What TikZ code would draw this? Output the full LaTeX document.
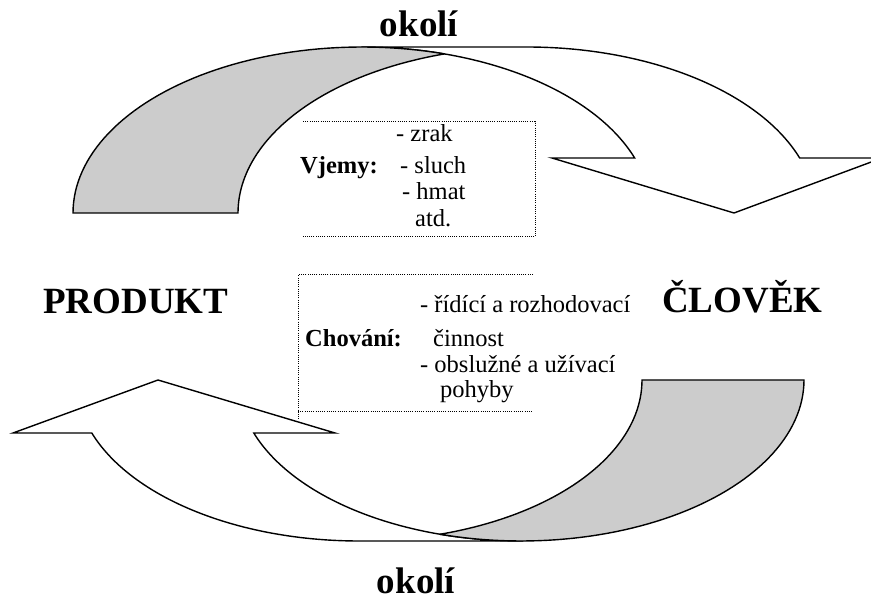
\documentclass[tikz,border=0pt]{standalone}
\usepackage{fontspec}
\setmainfont{Liberation Serif}
\begin{document}
\begin{tikzpicture}[x=1pt,y=-1pt,
  band/.style={draw=black,line width=1.4pt,line join=miter},
  dotbox/.style={draw=black,line width=1pt,dash pattern=on 1pt off 1.2pt},
  big/.style={inner sep=0pt,font=\fontsize{37}{40}\selectfont\bfseries},
  small/.style={inner sep=0pt,anchor=base west,font=\fontsize{24.5}{27}\selectfont},
  smallb/.style={small,font=\fontsize{24.5}{27}\selectfont\bfseries}]
\definecolor{shade}{RGB}{204,204,204}
\useasboundingbox (0,0) rectangle (871,601);

% top curved arrow (front band)
\draw[band,fill=white] (362,47) -- (527,47)
  -- plot[domain=90:19.35,samples=60,variable=\t] ({527+289*cos(\t)},{213-166*sin(\t)})
  -- (882,158) -- (734,213) -- (552,158)
  -- plot[domain=19.35:90,samples=60,variable=\t] ({362+289*cos(\t)},{213-166*sin(\t)}) -- cycle;
% top back band (shaded)
\draw[band,fill=shade]
  plot[domain=180:73.41,samples=60,variable=\t] ({362+289*cos(\t)},{213-166*sin(\t)})
  -- plot[domain=106.59:180,samples=60,variable=\t] ({527+289*cos(\t)},{213-166*sin(\t)}) -- cycle;

% bottom curved arrow (front band)
\draw[band,fill=white] (521,541) -- (359,541)
  -- plot[domain=90:19.22,samples=60,variable=\t] ({359-283*cos(\t)},{380+161*sin(\t)})
  -- (13,433) -- (158,380) -- (335,433)
  -- plot[domain=19.22:90,samples=60,variable=\t] ({521-283*cos(\t)},{380+161*sin(\t)}) -- cycle;
% bottom back band (shaded)
\draw[band,fill=shade]
  plot[domain=180:73.37,samples=60,variable=\t] ({521-283*cos(\t)},{380+161*sin(\t)})
  -- plot[domain=106.63:180,samples=60,variable=\t] ({359-283*cos(\t)},{380+161*sin(\t)}) -- cycle;

% dotted boxes
\draw[dotbox] (303,122) -- (535,122) -- (535,237) -- (303,237);
\draw[dotbox] (533,275) -- (298,275) -- (298,420);
\draw[dotbox] (298,412) -- (533,412);

% big labels
\node[big,anchor=base] (okoliT) at (419,37) {okolí};
\node[big,anchor=base] (okoliB) at (416,594) {okolí};
\node[big,anchor=base west] (produkt) at (43,314) {PRODUKT};
\node[big,anchor=base west] (clovek) at (662,313) {ČLOVĚK};

% Vjemy box
\node[smallb] (vjemy) at (300,174) {Vjemy:};
\node[small] (zrak) at (396,142) {- zrak};
\node[small] (sluch) at (400,174) {- sluch};
\node[small] (hmat) at (402,200) {- hmat};
\node[small] (atd) at (415,227) {atd.};

% Chovani box
\node[smallb] (chovani) at (305,347) {Chování:};
\node[small] (ridici) at (420,313) {- řídící a rozhodovací};
\node[small] (cinnost) at (433,347) {činnost};
\node[small] (obsluzne) at (420,373) {- obslužné a užívací};
\node[small] (pohyby) at (440,398) {pohyby};
\end{tikzpicture}
\end{document}
